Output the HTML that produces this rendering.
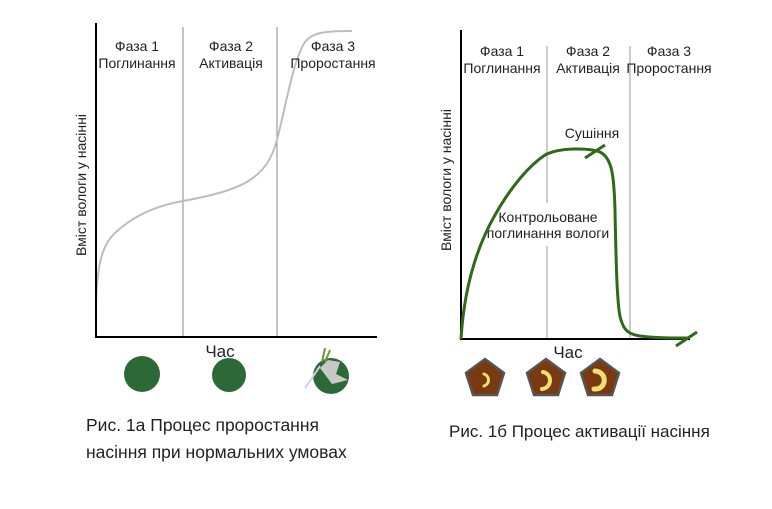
<!DOCTYPE html>
<html><head><meta charset="utf-8"><style>
html,body{margin:0;padding:0;background:#fff}
svg{display:block}
text{font-family:"Liberation Sans",sans-serif;fill:#222}
</style></head><body>
<svg width="772" height="509" viewBox="0 0 772 509">
<!-- Left chart -->
<line x1="183" y1="27" x2="183" y2="337" stroke="#8a8a8a" stroke-width="1"/>
<line x1="277" y1="27" x2="277" y2="337" stroke="#8a8a8a" stroke-width="1"/>
<path d="M96,305 C97,265 102,245 115,233 C135,214 160,205 183,201 C210,196 235,190 250,180 C265,170 272,158 277,140 C285,110 293,60 305,42 C312,33 322,31 352,31" fill="none" stroke="#bdbdbd" stroke-width="2"/>
<line x1="96" y1="23" x2="96" y2="338" stroke="#000" stroke-width="2"/>
<line x1="95" y1="337" x2="377" y2="337" stroke="#000" stroke-width="2"/>
<g font-size="14" text-anchor="middle">
<text x="137" y="51">Фаза 1</text><text x="137" y="68">Поглинання</text>
<text x="231" y="51">Фаза 2</text><text x="231" y="68">Активація</text>
<text x="333" y="51">Фаза 3</text><text x="333" y="68">Проростання</text>
</g>
<text x="86" y="185" font-size="14" text-anchor="middle" transform="rotate(-90 86 185)">Вміст вологи у насінні</text>
<text x="220" y="357" font-size="17" text-anchor="middle">Час</text>
<circle cx="142" cy="374" r="18" fill="#2b6a37"/>
<circle cx="229" cy="375" r="17" fill="#2b6a37"/>
<circle cx="331" cy="376" r="18" fill="#2b6a37"/>
<path d="M328,360 L340,362 L336,374 L348,380 L332,384 L320,368 Z" fill="#c8c8c8"/>
<path d="M320,366 L312,378 L305,388" stroke="#e0c8e8" stroke-width="2" fill="none"/>
<path d="M322,362 L325,348 M325,362 L330,350" stroke="#6a9a3a" stroke-width="2" fill="none"/>
<text x="86" y="431" font-size="17.5">Рис. 1а Процес проростання</text>
<text x="86" y="458" font-size="17.5">насіння при нормальних умовах</text>

<!-- Right chart -->
<line x1="547" y1="46" x2="547" y2="203" stroke="#999" stroke-width="1"/>
<line x1="547" y1="246" x2="547" y2="338" stroke="#999" stroke-width="1"/>
<line x1="630" y1="46" x2="630" y2="338" stroke="#999" stroke-width="1"/>
<line x1="461" y1="30" x2="461" y2="340" stroke="#000" stroke-width="2"/>
<line x1="460" y1="339" x2="690" y2="339" stroke="#000" stroke-width="2"/>
<g font-size="14" text-anchor="middle">
<text x="502" y="56">Фаза 1</text><text x="502" y="73">Поглинання</text>
<text x="588" y="56">Фаза 2</text><text x="588" y="73">Активація</text>
<text x="669" y="56">Фаза 3</text><text x="669" y="73">Проростання</text>
<text x="592" y="138">Сушіння</text>
<text x="548" y="222">Контрольоване</text>
<text x="548" y="238">поглинання вологи</text>
</g>
<path d="M461,339 C464,290 475,250 495,215 C512,185 530,165 545,155 C560,147 590,148 600,152 C612,158 614,175 615,210 C616,260 617,310 621,320 C624,330 628,334 640,336 C655,338 670,338 688,338" fill="none" stroke="#2f6a18" stroke-width="3"/>
<line x1="585" y1="158" x2="605" y2="145" stroke="#2f6a18" stroke-width="3"/>
<line x1="676" y1="346" x2="697" y2="332" stroke="#2f6a18" stroke-width="3"/>
<text x="451" y="180" font-size="14" text-anchor="middle" transform="rotate(-90 451 180)">Вміст вологи у насінні</text>
<text x="568" y="358" font-size="17" text-anchor="middle">Час</text>
<g stroke="#555" stroke-width="2.5" fill="#7a3a0f">
<polygon points="485,359 504,373 497,395 473,395 466,373"/>
<polygon points="546,359 565,373 558,395 534,395 527,373"/>
<polygon points="600,359 619,373 612,395 588,395 581,373"/>
</g>
<g fill="none" stroke="#f0e070" stroke-linecap="round">
<path d="M484,374 C490,376 490,384 484,386" stroke-width="3"/>
<path d="M543,372 C553,374 552,388 542,389" stroke-width="4"/>
<path d="M595,371 C608,372 607,390 594,389" stroke-width="5"/>
</g>
<text x="449" y="437" font-size="17">Рис. 1б Процес активації насіння</text>
</svg>
</body></html>
